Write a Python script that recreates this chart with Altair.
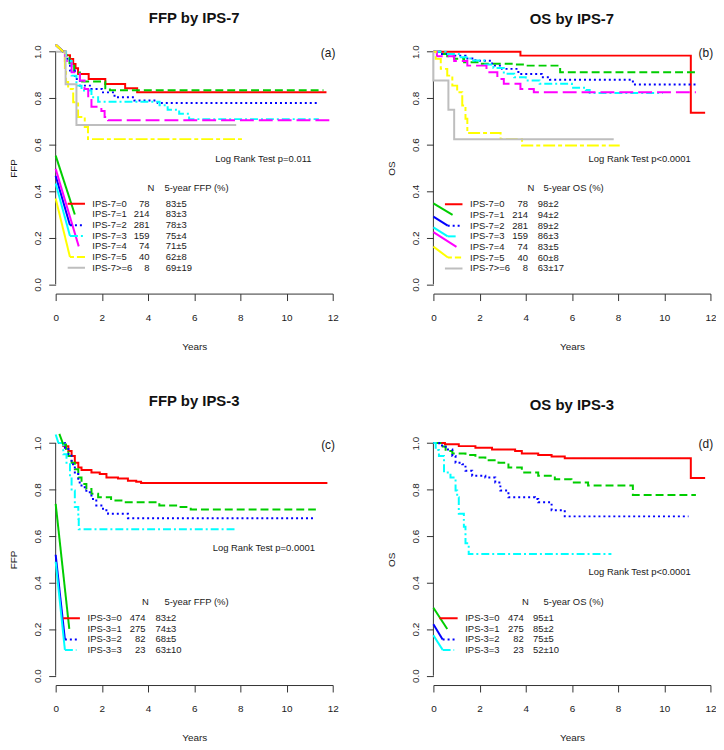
import altair as alt
import pandas as pd

YEAR_TICKS = [0, 2, 4, 6, 8, 10, 12]
SURV_TICKS = [0.0, 0.2, 0.4, 0.6, 0.8, 1.0]

COLORS = ["#FF0000", "#00CD00", "#0000FF", "#00FFFF", "#FF00FF", "#FFFF00", "#BEBEBE"]
DASHES = [[1, 0], [8, 4], [2, 3], [8, 3, 2, 3], [14, 5], [4, 3, 12, 3], [1, 0]]

# ---------------- Panel (a): FFP by IPS-7 ----------------
A0_T = [0.33, 0.45, 0.62, 0.76, 0.86, 0.97, 1.43, 2.15, 3.01, 3.53, 11.73]
A0_S = [1.0, 0.985, 0.969, 0.947, 0.929, 0.904, 0.883, 0.861, 0.843, 0.826, 0.826]
A1_T = [0.33, 0.42, 0.6, 0.8, 1.05, 2.15, 2.35, 11.6]
A1_S = [1.0, 0.985, 0.95, 0.91, 0.872, 0.843, 0.834, 0.834]
A2_T = [0.33, 0.45, 0.62, 0.83, 1.05, 1.55, 2.0, 2.55, 3.41, 4.42, 11.43]
A2_S = [1.0, 0.97, 0.919, 0.883, 0.854, 0.84, 0.825, 0.804, 0.79, 0.779, 0.779]
A3_T = [0.33, 0.45, 0.69, 0.9, 1.12, 1.55, 1.84, 4.5, 4.85, 5.35, 5.78, 11.4]
A3_S = [1.0, 0.96, 0.897, 0.854, 0.833, 0.804, 0.785, 0.77, 0.75, 0.733, 0.71, 0.71]
A4_T = [0.33, 0.4, 0.69, 1.05, 1.25, 1.41, 1.55, 1.98, 2.12, 2.27, 11.87]
A4_S = [1.0, 0.96, 0.911, 0.876, 0.84, 0.80, 0.763, 0.745, 0.719, 0.705, 0.705]
A5_T = [0.33, 0.4, 0.45, 0.54, 0.76, 0.97, 1.26, 1.4, 8.15]
A5_S = [1.0, 0.93, 0.87, 0.84, 0.783, 0.719, 0.676, 0.624, 0.624]
A6_T = [0.0, 0.43, 0.9, 7.82]
A6_S = [1.0, 0.86, 0.685, 0.685]

# ---------------- Panel (b): OS by IPS-7 ----------------
B0_T = [0.0, 3.77, 11.15, 11.77]
B0_S = [1.0, 0.983, 0.737, 0.737]
B1_T = [0.0, 0.3, 0.6, 0.9, 1.33, 2.0, 3.48, 4.0, 5.49, 11.5]
B1_S = [1.0, 0.99, 0.98, 0.97, 0.955, 0.948, 0.945, 0.94, 0.912, 0.912]
B2_T = [0.0, 0.3, 0.82, 1.39, 1.82, 2.54, 2.97, 3.68, 4.69, 5.05, 8.64, 11.44]
B2_S = [1.0, 0.99, 0.983, 0.971, 0.961, 0.94, 0.926, 0.904, 0.89, 0.879, 0.859, 0.859]
B3_T = [0.0, 0.53, 1.1, 1.6, 2.2, 2.6, 3.05, 3.5, 4.0, 4.6, 6.0, 6.6, 6.77, 9.94]
B3_S = [1.0, 0.99, 0.976, 0.962, 0.945, 0.93, 0.905, 0.89, 0.876, 0.862, 0.845, 0.835, 0.822, 0.822]
B4_T = [0.0, 0.15, 0.9, 1.47, 2.3, 2.77, 3.05, 3.77, 4.35, 11.37]
B4_S = [1.0, 0.98, 0.96, 0.94, 0.912, 0.883, 0.862, 0.84, 0.826, 0.826]
B5_T = [0.0, 0.1, 0.32, 0.6, 0.82, 1.03, 1.25, 1.39, 1.47, 2.91, 3.84, 8.07]
B5_S = [1.0, 0.969, 0.926, 0.897, 0.854, 0.826, 0.769, 0.712, 0.65, 0.624, 0.597, 0.597]
B6_T = [0.0, 0.0, 0.65, 0.9, 7.81]
B6_S = [1.0, 0.876, 0.75, 0.623, 0.623]

# ---------------- Panel (c): FFP by IPS-3 ----------------
C0_T = [0.12, 0.33, 0.55, 0.69, 0.83, 0.98, 1.12, 1.55, 1.91, 2.2, 2.7, 3.13, 3.49, 3.7, 11.77]
C0_S = [1.0, 0.987, 0.966, 0.945, 0.916, 0.895, 0.884, 0.874, 0.867, 0.852, 0.848, 0.838, 0.834, 0.828, 0.828]
C1_T = [0.33, 0.45, 0.55, 0.69, 0.83, 0.98, 1.12, 1.33, 1.55, 1.84, 2.4, 2.98, 4.49, 5.41, 5.85, 11.27]
C1_S = [0.994, 0.975, 0.945, 0.916, 0.888, 0.852, 0.824, 0.803, 0.782, 0.767, 0.753, 0.746, 0.732, 0.725, 0.715, 0.715]
C2_T = [0.12, 0.4, 0.55, 0.69, 0.83, 0.98, 1.12, 1.33, 1.55, 1.76, 2.05, 2.27, 3.13, 11.23]
C2_S = [1.0, 0.98, 0.952, 0.909, 0.867, 0.831, 0.81, 0.789, 0.76, 0.732, 0.711, 0.696, 0.677, 0.677]
C3_T = [0.12, 0.33, 0.47, 0.62, 0.69, 0.83, 0.98, 1.0, 7.83]
C3_S = [1.0, 0.952, 0.909, 0.852, 0.796, 0.725, 0.675, 0.63, 0.63]

# ---------------- Panel (d): OS by IPS-3 ----------------
D0_T = [0.0, 0.5, 1.1, 1.82, 2.54, 3.54, 3.83, 4.54, 5.12, 5.69, 11.15, 11.77]
D0_S = [1.0, 0.995, 0.987, 0.98, 0.973, 0.966, 0.955, 0.949, 0.942, 0.935, 0.85, 0.85]
D1_T = [0.0, 0.3, 0.53, 0.82, 1.39, 1.82, 2.25, 2.82, 3.25, 3.83, 4.54, 5.26, 5.98, 6.7, 8.64, 11.37]
D1_S = [1.0, 0.985, 0.966, 0.955, 0.949, 0.938, 0.926, 0.916, 0.895, 0.874, 0.86, 0.845, 0.831, 0.818, 0.777, 0.777]
D2_T = [0.0, 0.25, 0.53, 0.82, 0.96, 1.25, 1.39, 1.68, 2.25, 2.68, 2.9, 3.25, 4.4, 4.54, 5.12, 5.69, 11.05]
D2_S = [1.0, 0.99, 0.973, 0.945, 0.916, 0.909, 0.881, 0.86, 0.852, 0.831, 0.796, 0.767, 0.76, 0.746, 0.711, 0.685, 0.685]
D3_T = [0.0, 0.1, 0.24, 0.46, 0.74, 0.96, 1.03, 1.1, 1.32, 1.39, 1.53, 7.71]
D3_S = [1.0, 0.97, 0.945, 0.874, 0.852, 0.796, 0.767, 0.696, 0.64, 0.569, 0.523, 0.523]

# ---------------- Legend contents ----------------
LABELS7 = ["IPS-7=0", "IPS-7=1", "IPS-7=2", "IPS-7=3", "IPS-7=4", "IPS-7=5", "IPS-7>=6"]
N7 = [78, 214, 281, 159, 74, 40, 8]
FFP7 = ["83±5", "83±3", "78±3", "75±4", "71±5", "62±8", "69±19"]
OS7 = ["98±2", "94±2", "89±2", "86±3", "83±5", "60±8", "63±17"]
LABELS3 = ["IPS-3=0", "IPS-3=1", "IPS-3=2", "IPS-3=3"]
N3 = [474, 275, 82, 23]
FFP3 = ["83±2", "74±3", "68±5", "63±10"]
OS3 = ["95±1", "85±2", "75±5", "52±10"]

ROWS7_A = [0.346, 0.300, 0.254, 0.208, 0.163, 0.117, 0.071]
ROWS7_B = [0.344, 0.298, 0.252, 0.206, 0.161, 0.115, 0.068]
ROWS3 = [0.247, 0.201, 0.156, 0.111]

# stray line segments seen in the picture: (group, x0, y0, x1, y1)
CONN_A = [("0", 0, 1.03, 0.33, 1.0), ("1", 0, 1.03, 0.33, 1.0), ("2", 0, 1.03, 0.33, 1.0),
          ("3", 0, 1.03, 0.33, 1.0), ("4", 0, 1.03, 0.33, 1.0), ("5", 0, 1.03, 0.33, 1.0),
          ("1", 0, 0.553, 0.83, ROWS7_A[1]), ("2", 0, 0.467, 0.62, ROWS7_A[2]),
          ("3", 0, 0.433, 0.62, ROWS7_A[3]), ("4", 0, 0.496, 1.0, ROWS7_A[4]),
          ("5", 0, 0.369, 0.62, ROWS7_A[5])]
CONN_B = [("1", 0, 0.348, 0.83, ROWS7_B[1]), ("2", 0, 0.291, 0.62, ROWS7_B[2]),
          ("3", 0, 0.245, 0.62, ROWS7_B[3]), ("4", 0, 0.224, 1.0, ROWS7_B[4]),
          ("5", 0, 0.162, 0.63, ROWS7_B[5])]
CONN_C = [("1", 0.16, 1.04, 0.33, 0.994), ("3", 0, 1.037, 0.12, 1.0),
          ("1", 0, 0.739, 0.59, ROWS3[1]), ("2", 0, 0.52, 0.40, ROWS3[2]),
          ("3", 0, 0.49, 0.40, ROWS3[3])]
CONN_D = [("1", 0, 0.292, 0.6, ROWS3[1]), ("2", 0, 0.221, 0.4, ROWS3[2]),
          ("3", 0, 0.174, 0.4, ROWS3[3])]

# legend line samples: (group, x0, x1)
SAMP_A = [("0", 0.52, 1.27), ("2", 0.62, 1.23), ("3", 0.62, 1.2), ("5", 0.62, 1.27), ("6", 0.52, 1.27)]
SAMP_B = [("0", 0.5, 1.26), ("2", 0.62, 1.19), ("3", 0.62, 1.08), ("5", 0.63, 1.2), ("6", 0.5, 1.26)]
SAMP_C = [("0", 0.33, 1.05), ("2", 0.40, 1.0), ("3", 0.40, 0.9)]
SAMP_D = [("0", 0.26, 1.05), ("2", 0.40, 0.97), ("3", 0.40, 0.9)]

TXT = "#1a1a1a"
AX = "#333333"
FONT = "Liberation Sans"


def panel(title, toff, ytitle, tag, tag_y, lr_text, lr_x, lr_y, curves, labels, ns, vals,
          rows_y, lab_x, n_x, v_x, hdr, hdr_y, hdr_n_x, hdr_x, conns, samples):
    n = len(curves)
    dom = [str(g) for g in range(n)]
    cs = alt.Scale(domain=dom, range=COLORS[:n])
    ds = alt.Scale(domain=dom, range=DASHES[:n])
    xs = alt.Scale(domain=[0, 12], nice=False, zero=False)
    ys = alt.Scale(domain=[-0.04, 1.04], nice=False, zero=False)
    xax = alt.Axis(values=YEAR_TICKS, grid=False, tickSize=7, labelPadding=12, titlePadding=19,
                   domainColor=AX, tickColor=AX, labelColor=TXT, titleColor=TXT,
                   labelFontSize=10, titleFontSize=10, titleFontWeight="normal",
                   labelFlush=False, labelOverlap=False, format="d")
    yax = alt.Axis(values=SURV_TICKS, grid=False, domain=False, tickSize=7, labelPadding=6,
                   titlePadding=14, tickColor=AX, labelColor=TXT, titleColor=TXT,
                   labelFontSize=10, titleFontSize=10, titleFontWeight="normal",
                   labelAngle=270, labelAlign="center", labelBaseline="bottom",
                   labelFlush=False, labelOverlap=False, format=".1f")

    def X(f):
        return alt.X(f + ":Q", scale=xs, axis=xax, title="Years")

    def Y(f):
        return alt.Y(f + ":Q", scale=ys, axis=yax, title=ytitle)

    col = alt.Color("g:N", scale=cs, legend=None)
    dash = alt.StrokeDash("g:N", scale=ds, legend=None)

    axis_df = pd.DataFrame({"t": [0.0], "s": [0.0], "s2": [1.0]})
    yline = alt.Chart(axis_df).mark_rule(color=AX, strokeWidth=1).encode(
        x=X("t"), y=Y("s"), y2=alt.Y2("s2"))

    rows = []
    for g, (ts, ss) in enumerate(curves):
        for i, (t, s) in enumerate(zip(ts, ss)):
            rows.append({"t": t, "s": s, "g": str(g), "i": i})
    cdf = pd.DataFrame(rows)
    lines = alt.Chart(cdf).mark_line(interpolate="step-after", strokeWidth=2).encode(
        x=X("t"), y=Y("s"), color=col, strokeDash=dash, order="i:Q")

    crow = []
    for k, (g, x0, y0, x1, y1) in enumerate(conns):
        crow.append({"t": x0, "s": y0, "g": g, "seg": k, "i": 0})
        crow.append({"t": x1, "s": y1, "g": g, "seg": k, "i": 1})
    conn = alt.Chart(pd.DataFrame(crow)).mark_line(strokeWidth=2).encode(
        x=X("t"), y=Y("s"), color=col, detail="seg:N", order="i:Q")

    srow = [{"t": x0, "t2": x1, "s": rows_y[int(g)], "g": g} for (g, x0, x1) in samples]
    samp = alt.Chart(pd.DataFrame(srow)).mark_rule(strokeWidth=2).encode(
        x=X("t"), x2=alt.X2("t2"), y=Y("s"), color=col, strokeDash=dash)

    ldf = pd.DataFrame({"s": rows_y, "lab": labels, "n": [str(v) for v in ns], "v": vals,
                        "tl": [lab_x] * n, "tn": [n_x] * n, "tv": [v_x] * n})
    ltxt = alt.Chart(ldf).mark_text(align="left", baseline="middle", fontSize=9.5, color=TXT).encode(
        x=X("tl"), y=Y("s"), text="lab:N")
    ntxt = alt.Chart(ldf).mark_text(align="right", baseline="middle", fontSize=9.5, color=TXT).encode(
        x=X("tn"), y=Y("s"), text="n:N")
    vtxt = alt.Chart(ldf).mark_text(align="left", baseline="middle", fontSize=9.5, color=TXT).encode(
        x=X("tv"), y=Y("s"), text="v:N")

    hdf = pd.DataFrame({"t": [hdr_n_x, hdr_x], "s": [hdr_y, hdr_y], "txt": ["N", hdr],
                        "al": ["c", "l"]})
    htxt_n = alt.Chart(hdf[hdf.al == "c"]).mark_text(align="center", baseline="middle",
                                                     fontSize=9.5, color=TXT).encode(
        x=X("t"), y=Y("s"), text="txt:N")
    htxt = alt.Chart(hdf[hdf.al == "l"]).mark_text(align="left", baseline="middle",
                                                   fontSize=9.5, color=TXT).encode(
        x=X("t"), y=Y("s"), text="txt:N")

    lr = alt.Chart(pd.DataFrame({"t": [lr_x], "s": [lr_y], "txt": [lr_text]})).mark_text(
        align="right", baseline="middle", fontSize=9.5, color=TXT).encode(
        x=X("t"), y=Y("s"), text="txt:N")
    tg = alt.Chart(pd.DataFrame({"t": [11.8], "s": [tag_y], "txt": [tag]})).mark_text(
        align="center", baseline="middle", fontSize=12, color=TXT).encode(
        x=X("t"), y=Y("s"), text="txt:N")

    return alt.layer(yline, lines, conn, samp, ltxt, ntxt, vtxt, htxt_n, htxt, lr, tg).properties(
        width=279, height=253,
        title=alt.TitleParams(title, fontSize=15, fontWeight="bold", offset=toff,
                              anchor="middle", color="#111111", font=FONT))


pa = panel("FFP by IPS-7", 15, "FFP", "(a)", 0.993, "Log Rank Test p=0.011", 11.08, 0.54,
           [(A0_T, A0_S), (A1_T, A1_S), (A2_T, A2_S), (A3_T, A3_S), (A4_T, A4_S), (A5_T, A5_S), (A6_T, A6_S)],
           LABELS7, N7, FFP7, ROWS7_A, 1.59, 4.06, 4.77, "5-year FFP (%)", 0.415, 4.13, 4.71,
           CONN_A, SAMP_A)
pb = panel("OS by IPS-7", 15, "OS", "(b)", 0.993, "Log Rank Test p<0.0001", 11.15, 0.54,
           [(B0_T, B0_S), (B1_T, B1_S), (B2_T, B2_S), (B3_T, B3_S), (B4_T, B4_S), (B5_T, B5_S), (B6_T, B6_S)],
           LABELS7, N7, OS7, ROWS7_B, 1.59, 4.1, 4.52, "5-year OS (%)", 0.415, 4.22, 4.77,
           CONN_B, SAMP_B)
pc = panel("FFP by IPS-3", 21, "FFP", "(c)", 0.99, "Log Rank Test p=0.0001", 11.23, 0.548,
           [(C0_T, C0_S), (C1_T, C1_S), (C2_T, C2_S), (C3_T, C3_S)],
           LABELS3, N3, FFP3, ROWS3, 1.38, 3.89, 4.32, "5-year FFP (%)", 0.316, 3.89, 4.71,
           CONN_C, SAMP_C)
pd_ = panel("OS by IPS-3", 21, "OS", "(d)", 0.997, "Log Rank Test p<0.0001", 11.15, 0.445,
            [(D0_T, D0_S), (D1_T, D1_S), (D2_T, D2_S), (D3_T, D3_S)],
            LABELS3, N3, OS3, ROWS3, 1.38, 3.91, 4.31, "5-year OS (%)", 0.316, 3.99, 4.77,
            CONN_D, SAMP_D)

chart = alt.concat(pa, pb, pc, pd_, columns=2, spacing={"row": 141.2, "column": 101.4},
                   bounds="flush").properties(padding=0).configure(
    font=FONT).configure_view(stroke=None)

chart.save("out.html", embed_options={"renderer": "svg", "actions": False})
